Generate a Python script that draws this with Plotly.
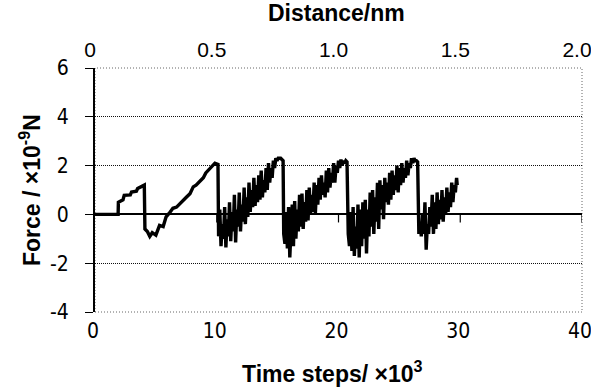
import plotly.graph_objects as go

# ---- data (time in thousands of steps, force in 1e-9 N) ----
time_k = [
    0, 1.9, 1.92, 2.3, 2.4, 2.9, 3.0, 3.4, 3.5, 3.95, 4.05, 4.1, 4.3, 4.5, 4.7, 5.0,
    5.3, 5.6, 5.84, 6.1, 6.4, 6.7, 6.97, 7.2, 7.5, 7.8, 8.07, 8.3, 8.6, 8.9, 9.1,
    9.3, 9.55, 9.7, 9.85, 10.1,
    10.15, 10.25, 10.35, 10.45, 10.55, 10.65, 10.75, 10.85, 10.95, 11.05, 11.15,
    11.25, 11.35, 11.45, 11.55, 11.65, 11.75, 11.85, 11.95, 12.05, 12.15, 12.25,
    12.35, 12.45, 12.55, 12.65, 12.75, 12.85, 12.95, 13.05, 13.15, 13.25, 13.35,
    13.45, 13.55, 13.65, 13.75, 13.85, 13.95, 14.05, 14.15, 14.25, 14.35, 14.45,
    14.55, 14.65, 14.75, 14.85, 14.95, 15.05, 15.15, 15.25, 15.35, 15.45,
    15.5, 15.6, 15.7, 15.8, 15.9, 16.0, 16.1, 16.2, 16.3, 16.4, 16.5, 16.6, 16.7,
    16.8, 16.9, 17.0, 17.1, 17.2, 17.3, 17.4, 17.5, 17.6, 17.7, 17.8, 17.9, 18.0,
    18.1, 18.2, 18.3, 18.4, 18.5, 18.6, 18.7, 18.8, 18.9, 19.0, 19.1, 19.2, 19.3,
    19.4, 19.5, 19.6, 19.7, 19.8, 19.9, 20.0, 20.1, 20.2, 20.3, 20.4, 20.5, 20.6,
    20.7,
    20.8, 20.9, 21.0, 21.1, 21.2, 21.3, 21.4, 21.5, 21.6, 21.7, 21.8, 21.9, 22.0,
    22.1, 22.2, 22.3, 22.4, 22.5, 22.6, 22.7, 22.8, 22.9, 23.0, 23.1, 23.2, 23.3,
    23.4, 23.5, 23.6, 23.7, 23.8, 23.9, 24.0, 24.1, 24.2, 24.3, 24.4, 24.5, 24.6,
    24.7, 24.8, 24.9, 25.0, 25.1, 25.2, 25.3, 25.4, 25.5, 25.6, 25.7, 25.8, 25.9,
    26.0, 26.1, 26.2, 26.3, 26.4, 26.5,
    26.6, 26.7, 26.8, 26.9, 27.0, 27.1, 27.2, 27.3, 27.4, 27.5, 27.6, 27.7, 27.8,
    27.9, 28.0, 28.1, 28.2, 28.3, 28.4, 28.5, 28.6, 28.7, 28.8, 28.9, 29.0, 29.1,
    29.2, 29.3, 29.4, 29.5, 29.6, 29.7, 29.75,
]
force = [
    0, 0, 0.5, 0.6, 0.78, 0.8, 0.92, 0.95, 1.06, 1.2, 1.2, -0.6, -0.7, -0.9, -0.75,
    -0.85, -0.45, -0.5, -0.1, 0.05, 0.25, 0.3, 0.45, 0.55, 0.7, 0.85, 1.13, 1.2,
    1.33, 1.5, 1.7, 1.8, 1.95, 2.0, 2.1, 2.05,
    -0.9, 0.2, -1.3, -0.4, -1.0, 0.3, -1.35, -0.2, -0.9, 0.5, -1.1, 0.1, -0.7, 0.8,
    -1.15, 0.2, -0.5, 0.9, -0.7, 0.4, -0.3, 1.1, -0.4, 0.7, -0.1, 1.3, 0.1, 1.0,
    0.3, 1.5, 0.35, 1.2, 0.5, 1.6, 0.6, 1.8, 0.7, 1.4, 0.9, 1.9, 1.0, 2.1, 1.3, 1.9,
    1.5, 2.2, 1.9, 2.3, 2.2, 2.3, 2.3, 2.3, 2.25, 2.2,
    -0.8, -1.2, 0.1, -1.4, 0.3, -1.76, -0.6, 0.4, -1.3, 0.55, -1.0, 0.2, -0.7, 0.8,
    -0.5, 0.85, -0.6, 0.5, -0.3, 1.0, -0.25, 1.1, 0.0, 0.8, 0.1, 1.3, 0.05, 1.2,
    0.4, 1.5, 0.6, 1.6, 0.8, 1.3, 0.7, 1.8, 0.9, 1.9, 1.1, 1.7, 1.3, 2.1, 1.3, 2.0,
    1.7, 2.2, 1.9, 2.25, 2.0, 2.2, 2.1, 2.2, 2.15,
    -0.8, -1.3, 0.1, -1.5, 0.3, -1.7, -0.5, -1.4, 0.4, -1.76, 0.2, -1.3, 0.5, -1.0,
    0.6, -1.6, 0.2, -0.9, 0.9, -0.5, 1.0, -0.8, 0.7, -0.3, 1.3, -0.6, 1.4, 0.2, 1.2,
    -0.2, 1.5, 0.5, 1.3, 0.4, 1.7, 0.6, 1.8, 0.8, 1.6, 1.0, 2.0, 0.9, 1.9, 1.2, 2.1,
    1.3, 1.9, 1.5, 2.2, 1.6, 2.1, 1.9, 2.3, 2.1, 2.3, 2.2, 2.2, 2.15,
    -0.8, -0.3, -0.9, 0.0, -0.8, 0.5, -1.45, -0.4, -0.8, 0.3, -0.5, 0.8, -0.8, 0.5,
    -0.6, 0.9, -0.4, 0.6, -0.2, 1.0, -0.3, 0.7, 0.0, 1.1, 0.1, 0.9, 0.3, 1.3, 0.5,
    1.2, 0.9, 1.5, 1.2,
]

x_ticks = [0, 10, 20, 30, 40]
x_tick_labels = ["0", "10", "20", "30", "40"]
nm_ticks = [0, 0.5, 1.0, 1.5, 2.0]
nm_tick_labels = ["0", "0.5", "1.0", "1.5", "2.0"]
y_ticks = [-4, -2, 0, 2, 4, 6]
y_tick_labels = ["-4", "-2", "0", "2", "4", "6"]

NARROW = "Liberation Sans Narrow, Arial Narrow, DejaVu Sans Condensed, sans-serif"
SANS = "Liberation Sans, Arial, Helvetica, sans-serif"

fig = go.Figure()
fig.add_trace(go.Scatter(
    x=time_k, y=force, mode="lines",
    line=dict(color="black", width=3.4), showlegend=False, hoverinfo="skip",
))
# empty trace to activate the top (distance) axis
fig.add_trace(go.Scatter(x=[], y=[], xaxis="x2", yaxis="y", showlegend=False))

shapes = [
    # dotted plot frame
    dict(type="rect", xref="paper", yref="paper", x0=0, x1=1, y0=0, y1=1,
         line=dict(color="#666666", width=1, dash="1px,2px"), layer="below"),
]
# short tick marks hanging from the zero-line axis
for t in x_ticks[1:]:
    shapes.append(dict(type="line", xref="x", yref="y", x0=t, x1=t, y0=0, y1=-0.33,
                       line=dict(color="black", width=1.2)))

fig.update_layout(
    width=591, height=388,
    margin=dict(l=95, r=9, t=68, b=76),
    paper_bgcolor="white", plot_bgcolor="white",
    showlegend=False,
    shapes=shapes,
    xaxis=dict(
        range=[0, 40], tickvals=x_ticks, ticktext=x_tick_labels,
        showgrid=False, zeroline=False, showline=False, ticks="",
        tickfont=dict(family=NARROW, size=21, color="black"),
        ticklabelstandoff=4, ticklabeloverflow="allow", ticklabelshift=-2,
        automargin=False,
    ),
    xaxis2=dict(
        overlaying="x", side="top", anchor="y",
        range=[0, 2.0], tickvals=nm_ticks, ticktext=nm_tick_labels,
        showgrid=False, zeroline=False, showline=False, ticks="",
        tickfont=dict(family=SANS, size=21, color="black"),
        ticklabelstandoff=6, ticklabeloverflow="allow", ticklabelshift=-5,
        automargin=False,
    ),
    yaxis=dict(
        range=[-4, 6], tickvals=y_ticks, ticktext=y_tick_labels,
        showgrid=True, gridcolor="#111111", griddash="1px,1px", gridwidth=1,
        zeroline=True, zerolinecolor="black", zerolinewidth=2,
        showline=True, linecolor="black", linewidth=2,
        ticks="outside", ticklen=8, tickcolor="black", tickwidth=1.2,
        tickfont=dict(family=NARROW, size=21, color="black"),
        ticklabelstandoff=12, automargin=False,
    ),
    annotations=[
        dict(text="<b>Distance/nm</b>", xref="paper", yref="paper", x=0.5, y=1,
             xanchor="center", yanchor="middle", yshift=55, xshift=-2,
             showarrow=False, font=dict(family=SANS, size=23, color="black")),
        dict(text="<b>Time steps/ ×10<sup>3</sup></b>", xref="paper", yref="paper",
             x=0.5, y=0, xanchor="center", yanchor="middle", yshift=-60, xshift=-6,
             showarrow=False, font=dict(family=SANS, size=23, color="black")),
        dict(text="<b>Force / ×10<sup>-9</sup>N</b>", xref="paper", yref="paper",
             x=0, y=0.5, xanchor="center", yanchor="middle", xshift=-65,
             textangle=-90, showarrow=False,
             font=dict(family=SANS, size=23, color="black")),
    ],
)

fig.write_html("out.html")
